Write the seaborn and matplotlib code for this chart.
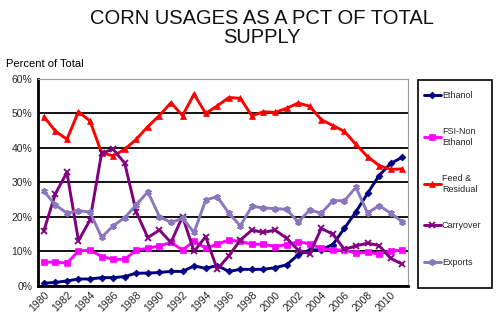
import matplotlib
matplotlib.use("Agg")
import matplotlib.pyplot as plt
import pandas as pd
import seaborn as sns
from matplotlib.patches import Rectangle
from matplotlib.ticker import FixedLocator, FuncFormatter

years = list(range(1980, 2012))

ethanol = [0.8, 1.0, 1.45, 2.0, 2.0, 2.4, 2.4, 2.7, 3.7, 3.7, 3.9, 4.2, 4.2, 5.8, 5.1, 5.9,
           4.2, 4.8, 4.8, 4.8, 5.3, 6.1, 9.0, 10.4, 10.5, 12.0, 16.7, 21.5, 26.8, 32.0, 35.5, 37.3]
fsi_non_ethanol = [6.9, 6.9, 6.6, 10.1, 10.4, 8.5, 7.7, 7.7, 10.4, 10.9, 11.6, 12.6, 10.4, 13.0, 10.9, 12.1,
                   13.3, 12.9, 12.1, 12.1, 11.4, 12.0, 12.8, 12.2, 10.9, 10.4, 10.4, 9.5, 9.7, 9.3, 10.1, 10.4]
feed_residual = [49.1, 44.9, 42.5, 50.5, 47.8, 38.6, 37.7, 39.6, 42.5, 46.2, 49.4, 53.1, 49.4, 55.6, 50.0, 52.2,
                 54.6, 54.4, 49.3, 50.5, 50.3, 51.5, 53.0, 52.1, 48.2, 46.5, 44.8, 41.0, 37.5, 34.9, 33.8, 33.9]
carryover = [15.9, 26.7, 32.9, 13.1, 19.1, 38.5, 39.6, 35.6, 21.4, 14.0, 16.2, 12.6, 20.1, 10.0, 14.3, 4.8,
             8.7, 13.3, 16.2, 15.5, 16.2, 13.8, 10.4, 9.3, 16.7, 15.0, 10.6, 11.6, 12.4, 11.7, 8.0, 6.3]
exports = [27.5, 23.5, 21.1, 21.8, 21.4, 14.1, 17.4, 19.8, 23.5, 27.3, 20.1, 18.4, 19.6, 15.5, 24.9, 25.9,
           21.1, 17.4, 23.1, 22.6, 22.4, 22.2, 18.5, 22.0, 21.1, 24.7, 24.7, 28.6, 21.1, 23.3, 21.1, 18.6]

series_names = ["Ethanol", "FSI-Non Ethanol", "Feed & Residual", "Carryover", "Exports"]
legend_labels = ["Ethanol", "FSI-Non\nEthanol", "Feed &\nResidual", "Carryover", "Exports"]
series_values = [ethanol, fsi_non_ethanol, feed_residual, carryover, exports]

colors = {"Ethanol": "#000080", "FSI-Non Ethanol": "#FF00FF", "Feed & Residual": "#FF0000",
          "Carryover": "#800080", "Exports": "#8A78BE"}
# seaborn needs a uniform marker kind; line-art markers are applied after drawing
style_markers = {"Ethanol": "D", "FSI-Non Ethanol": "s", "Feed & Residual": "^",
                 "Carryover": "X", "Exports": "P"}
final_markers = {"Ethanol": "D", "FSI-Non Ethanol": "s", "Feed & Residual": "^",
                 "Carryover": "x", "Exports": (6, 2, 0)}
marker_sizes = {"Ethanol": 3.5, "FSI-Non Ethanol": 4, "Feed & Residual": 4.5,
                "Carryover": 4.5, "Exports": 4.8}

df = pd.DataFrame({
    "Year": [y for _ in series_names for y in years],
    "Share": [v for vals in series_values for v in vals],
    "Usage": [n for n in series_names for _ in years],
})

sns.set_theme(style="white")
plt.rcParams["font.family"] = ["Liberation Sans", "DejaVu Sans"]

fig = plt.figure(figsize=(5, 3.29), dpi=100)
ax = fig.add_axes([0.076, 0.131, 0.74, 0.629])

sns.lineplot(data=df, x="Year", y="Share", hue="Usage", style="Usage",
             hue_order=series_names, style_order=series_names,
             palette=colors, markers=style_markers, dashes=False,
             linewidth=2.1, ax=ax, legend=False, zorder=3)

for line, name in zip(ax.get_lines(), series_names):
    c = colors[name]
    line.set_marker(final_markers[name])
    line.set_markeredgecolor(c)
    line.set_markerfacecolor(c)
    line.set_markersize(marker_sizes[name])
    line.set_markeredgewidth(1.3 if name in ("Carryover", "Exports") else 0.5)

ax.set_xlim(1979.5, 2011.5)
ax.set_ylim(0, 60)

ax.yaxis.set_major_locator(FixedLocator(range(0, 61, 10)))
ax.yaxis.set_major_formatter(FuncFormatter(lambda v, p: f"{int(v)}%"))
ax.yaxis.grid(True, color="black", linewidth=1.3, zorder=1)
ax.set_axisbelow(True)

ax.xaxis.set_major_locator(FixedLocator(list(range(1980, 2011, 2))))
ax.xaxis.set_minor_locator(FixedLocator([y + 0.5 for y in range(1979, 2012)]))
ax.tick_params(axis="x", which="major", length=0, pad=3, labelsize=7.5)
ax.tick_params(axis="x", which="minor", length=4, width=1, color="black", direction="out")
ax.tick_params(axis="y", which="major", length=0, pad=4, labelsize=7.5)
for lab in ax.get_xticklabels():
    lab.set_rotation(45)
    lab.set_ha("right")
    lab.set_va("top")
    lab.set_rotation_mode("anchor")

ax.set_xlabel("")
ax.set_ylabel("")

for side in ("left", "bottom"):
    ax.spines[side].set_color("black")
    ax.spines[side].set_linewidth(2.0)
for side in ("top", "right"):
    ax.spines[side].set_color("#9a9a9a")
    ax.spines[side].set_linewidth(0.8)

fig.text(0.524, 0.972, "CORN USAGES AS A PCT OF TOTAL\nSUPPLY", ha="center", va="top",
         fontsize=14.5, linespacing=1.0, color="#111111")
fig.text(0.012, 0.805, "Percent of Total", ha="left", va="center", fontsize=8, color="black")

# legend entries without their own frame, inside a fixed box on the right
leg = fig.legend(ax.get_lines(), legend_labels, loc="upper left",
                 bbox_to_anchor=(413 / 500, 1 - 80 / 329), borderaxespad=0,
                 fontsize=6.5, frameon=False, labelspacing=3.05,
                 handlelength=1.9, handletextpad=0.1, borderpad=1.2)
fig.patches.append(Rectangle((418 / 500, 1 - 288 / 329), 74 / 500, 208 / 329,
                             transform=fig.transFigure, fill=False,
                             edgecolor="black", linewidth=1.2))

fig.savefig("out.png", dpi=100)
